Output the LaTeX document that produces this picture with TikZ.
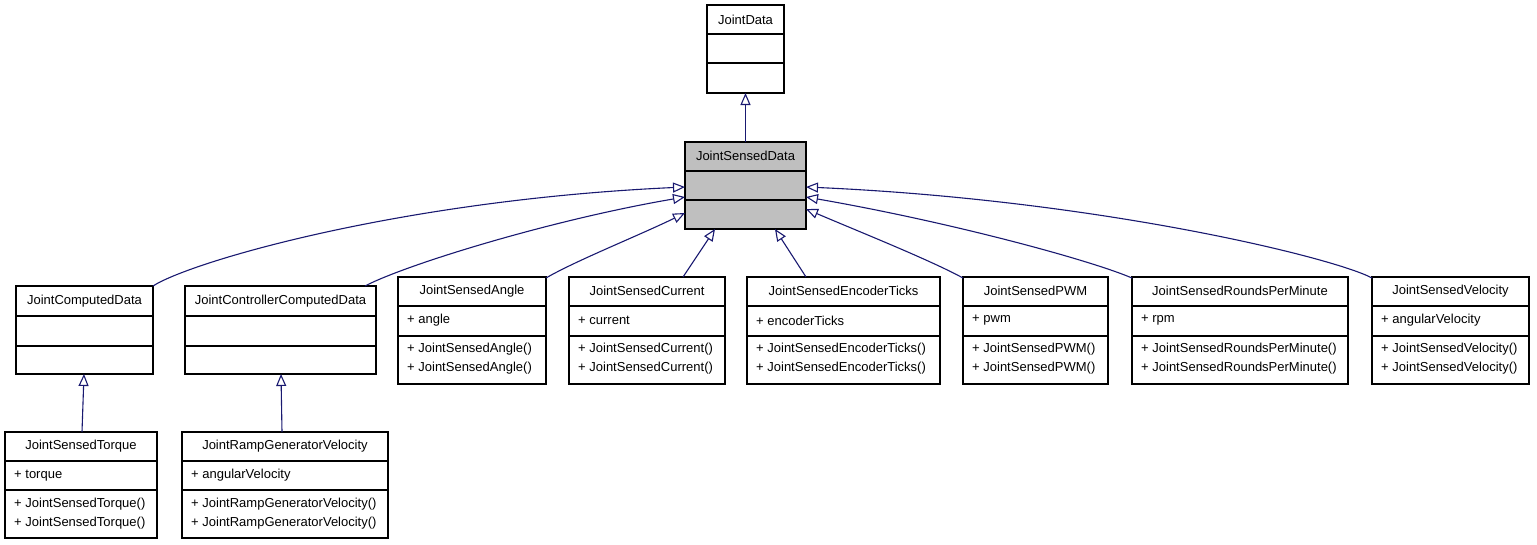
\documentclass[tikz,border=0pt]{standalone}
\usepackage{fontspec}
\setmainfont{Liberation Sans}
\usetikzlibrary{arrows.meta,calc}
\definecolor{edgeblue}{HTML}{191970}
\definecolor{boxgray}{HTML}{BFBFBF}
\tikzset{
  clsbox/.style={draw=black, line width=1.2pt, rectangle, inner sep=0pt, outer sep=0pt, fill=white},
  divline/.style={draw=black, line width=1.2pt},
  title/.style={font=\fontsize{13}{15}\selectfont, inner sep=0pt, anchor=center},
  member/.style={font=\fontsize{13}{15}\selectfont, inner sep=0pt, anchor=west},
  inherit/.style={draw=edgeblue, line width=1.1pt, -{Triangle[open, length=12pt, width=10pt, fill=white]}}
}
% name, x1, y1, x2, y2, d1, d2, fill
\newcommand\umlbox[8]{%
  \node[clsbox, fill=#8, minimum width={#4-#2}, minimum height={#5-#3}] (#1) at ({(#2+#4)/2},{(#3+#5)/2}) {};
  \draw[divline] (#2,#6) -- (#4,#6);
  \draw[divline] (#2,#7) -- (#4,#7);
}
\begin{document}
\begin{tikzpicture}[x=1pt,y=-1pt]
\useasboundingbox (0,0) rectangle (1537,544);

% top classes
\umlbox{JD}{707}{5}{784}{93}{34}{63}{white}
\node[title] (JDt) at (745.5,19.5) {JointData};

\umlbox{JSD}{685}{142}{806}{229}{171}{200}{boxgray}
\node[title] (JSDt) at (745.5,156) {JointSensedData};

% middle row
\umlbox{JCD}{16}{286}{153}{374}{316}{346}{white}
\node[title] (JCDt) at (84.5,301) {JointComputedData};

\umlbox{JCCD}{185}{286}{376}{374}{316}{346}{white}
\node[title] (JCCDt) at (280.5,301) {JointControllerComputedData};

\umlbox{JSA}{398}{277}{546}{384}{306}{336}{white}
\node[title] (JSAt) at (472,291) {JointSensedAngle};
\node[member] (JSAa) at (407,320.5) {+ angle};
\node[member] (JSAm1) at (407,349.5) {+ JointSensedAngle()};
\node[member] (JSAm2) at (407,368.5) {+ JointSensedAngle()};

\umlbox{JSC}{569}{277}{725}{384}{306}{336}{white}
\node[title] (JSCt) at (647,291) {JointSensedCurrent};
\node[member] (JSCa) at (578,320.5) {+ current};
\node[member] (JSCm1) at (578,349.5) {+ JointSensedCurrent()};
\node[member] (JSCm2) at (578,368.5) {+ JointSensedCurrent()};

\umlbox{JSET}{747}{277}{940}{384}{306}{336}{white}
\node[title] (JSETt) at (843.5,291) {JointSensedEncoderTicks};
\node[member] (JSETa) at (756,320.5) {+ encoderTicks};
\node[member] (JSETm1) at (756,349.5) {+ JointSensedEncoderTicks()};
\node[member] (JSETm2) at (756,368.5) {+ JointSensedEncoderTicks()};

\umlbox{JSPWM}{963}{277}{1108}{384}{306}{336}{white}
\node[title] (JSPWMt) at (1035.5,291) {JointSensedPWM};
\node[member] (JSPWMa) at (972,320.5) {+ pwm};
\node[member] (JSPWMm1) at (972,349.5) {+ JointSensedPWM()};
\node[member] (JSPWMm2) at (972,368.5) {+ JointSensedPWM()};

\umlbox{JSRPM}{1132}{277}{1348}{384}{306}{336}{white}
\node[title] (JSRPMt) at (1240,291) {JointSensedRoundsPerMinute};
\node[member] (JSRPMa) at (1141,320.5) {+ rpm};
\node[member] (JSRPMm1) at (1141,349.5) {+ JointSensedRoundsPerMinute()};
\node[member] (JSRPMm2) at (1141,368.5) {+ JointSensedRoundsPerMinute()};

\umlbox{JSV}{1372}{277}{1529}{384}{306}{336}{white}
\node[title] (JSVt) at (1450.5,291) {JointSensedVelocity};
\node[member] (JSVa) at (1381,320.5) {+ angularVelocity};
\node[member] (JSVm1) at (1381,349.5) {+ JointSensedVelocity()};
\node[member] (JSVm2) at (1381,368.5) {+ JointSensedVelocity()};

% bottom row
\umlbox{JST}{5}{432}{157}{538}{461}{490}{white}
\node[title] (JSTt) at (81,446) {JointSensedTorque};
\node[member] (JSTa) at (14,475.5) {+ torque};
\node[member] (JSTm1) at (14,504.5) {+ JointSensedTorque()};
\node[member] (JSTm2) at (14,523.5) {+ JointSensedTorque()};

\umlbox{JRGV}{182}{432}{388}{538}{461}{490}{white}
\node[title] (JRGVt) at (285,446) {JointRampGeneratorVelocity};
\node[member] (JRGVa) at (191,475.5) {+ angularVelocity};
\node[member] (JRGVm1) at (191,504.5) {+ JointRampGeneratorVelocity()};
\node[member] (JRGVm2) at (191,523.5) {+ JointRampGeneratorVelocity()};

% inheritance edges
\draw[inherit] (JSD.north) -- (JD.south);

\draw[inherit] (JCD.north east) .. controls (190,262) and (400,200) .. ($(JSD.north west)+(0,45)$);
\draw[inherit] ($(JCCD.north east)+(-11,0)$) .. controls (405,265) and (550,220) .. ($(JSD.north west)+(0,55)$);
\draw[inherit] ($(JSA.north east)+(0,1)$) .. controls (575,261) and (640,235) .. ($(JSD.north west)+(0,71)$);
\draw[inherit] ($(JSC.north east)+(-42,0)$) -- ($(JSD.south west)+(30,0)$);
\draw[inherit] ($(JSET.north west)+(59,0)$) -- ($(JSD.south east)+(-31,0)$);
\draw[inherit] ($(JSPWM.north west)+(0,1)$) .. controls (930,260) and (860,232) .. ($(JSD.north east)+(0,67)$);
\draw[inherit] ($(JSRPM.north west)+(0,1)$) .. controls (1090,260) and (950,222) .. ($(JSD.north east)+(0,55)$);
\draw[inherit] ($(JSV.north west)+(0,1)$) .. controls (1335,258) and (1100,200) .. ($(JSD.north east)+(0,45)$);

\draw[inherit] ($(JST.north west)+(77,0)$) -- ($(JCD.south west)+(68,0)$);
\draw[inherit] ($(JRGV.north west)+(100,0)$) -- ($(JCCD.south west)+(96,0)$);
\end{tikzpicture}
\end{document}
